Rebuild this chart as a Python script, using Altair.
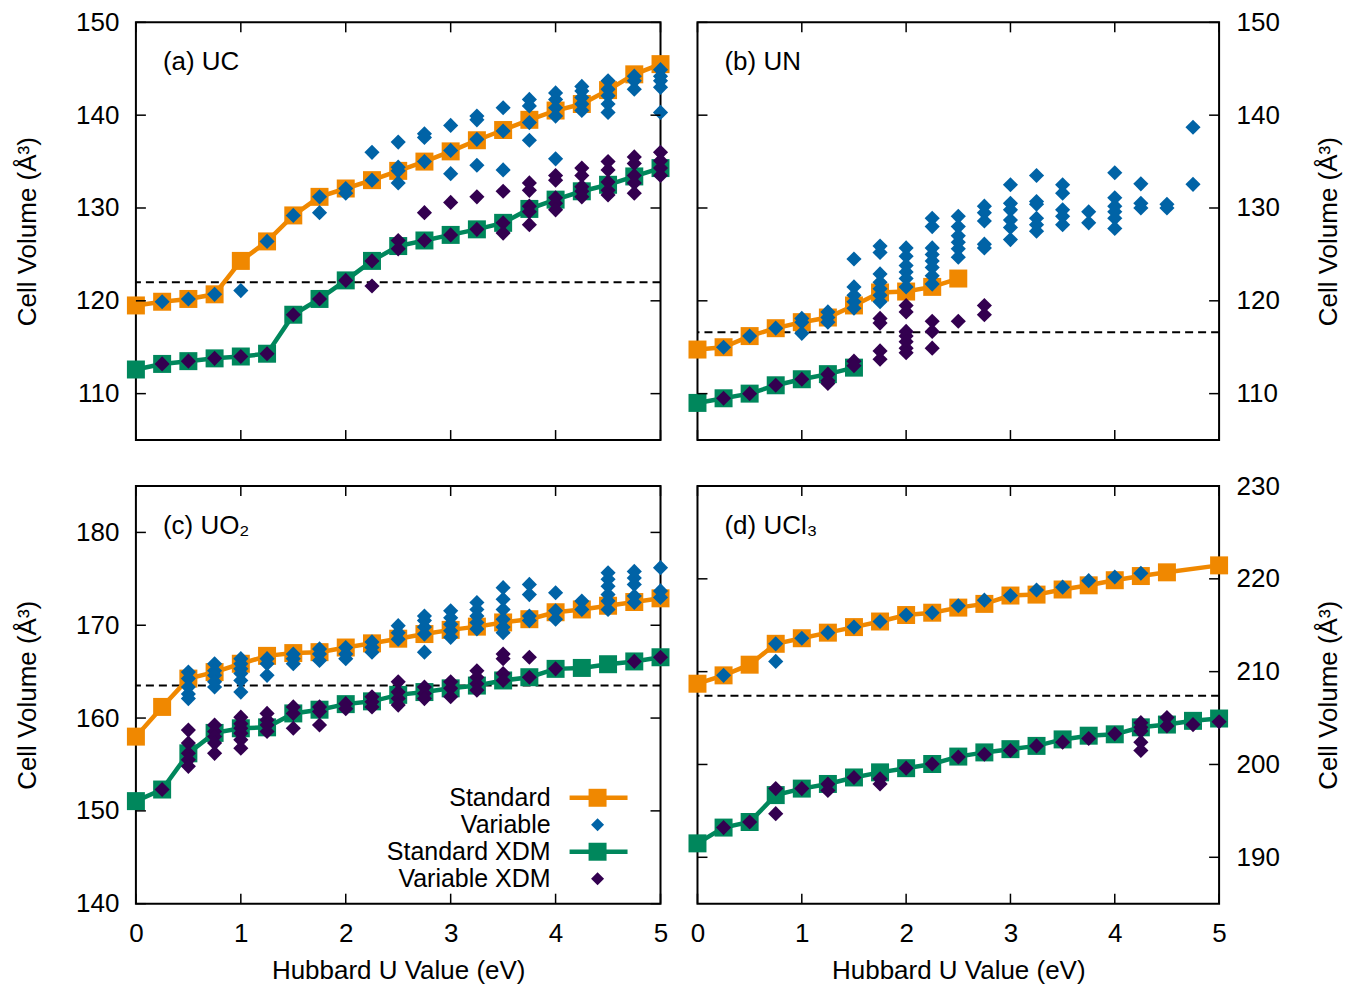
import altair as alt
import pandas as pd

# ---------------- data ----------------
U = [0.0, 0.25, 0.5, 0.75, 1.0, 1.25, 1.5, 1.75, 2.0, 2.25, 2.5,
     2.75, 3.0, 3.25, 3.5, 3.75, 4.0, 4.25, 4.5, 4.75, 5.0]
X_TICKS = [0, 1, 2, 3, 4, 5]

# (a) UC
UC_STD = [119.5, 119.9, 120.2, 120.7, 124.3, 126.4, 129.2, 131.2, 132.1, 133.0, 134.0,
          135.0, 136.1, 137.3, 138.4, 139.5, 140.5, 141.2, 142.7, 144.4, 145.5]
UC_XDM = [112.6, 113.2, 113.5, 113.8, 114.0, 114.3, 118.5, 120.2, 122.2, 124.3, 125.9,
          126.5, 127.1, 127.7, 128.4, 129.9, 130.9, 131.8, 132.5, 133.4, 134.3]
UC_VAR = [[], [119.9], [120.2], [120.7], [121.1], [126.4], [129.2], [131.2, 129.5],
          [132.1, 131.6], [133.0, 136.0], [137.1, 134.4, 134.0, 132.7],
          [138.0, 137.6, 135.0], [138.9, 136.2, 133.7], [139.9, 139.5, 137.4, 134.6],
          [140.8, 138.3, 134.1], [141.7, 141.0, 139.2, 137.3],
          [142.4, 141.7, 140.8, 139.9, 135.3], [143.1, 142.6, 141.9, 141.2, 140.5],
          [143.7, 142.8, 142.1, 141.2, 140.3], [144.2, 143.7, 142.8],
          [144.9, 144.2, 143.7, 143.0, 140.3]]
UC_VXDM = [[], [113.2], [113.5], [113.8], [114.0], [114.3], [118.5], [120.2], [122.2],
           [124.3, 121.6], [126.5, 125.6], [129.5, 126.5], [130.6, 127.1], [131.2, 127.7],
           [131.8, 128.4, 127.3], [132.7, 131.9, 130.2, 129.6, 128.2],
           [133.5, 133.0, 131.1, 130.5, 129.8], [134.3, 133.5, 132.3, 131.8, 131.2],
           [135.0, 134.1, 132.8, 131.9, 131.4], [135.5, 134.8, 133.5, 132.7, 131.6],
           [136.0, 135.1, 134.3, 133.5]]
UC_REF = 122.0

# (b) UN
UN_STD = [114.75, 115.0, 116.2, 117.05, 117.7, 118.2, 119.5, 120.9, 121.0, 121.5, 122.4]
UN_XDM = [109.0, 109.5, 110.0, 110.9, 111.55, 112.1, 112.8]
UN_VAR = [[], [115.0], [116.2], [117.05], [118.1, 117.7, 116.5], [118.8, 118.2, 117.7],
          [124.5, 121.5, 120.6, 119.9, 119.2],
          [125.9, 125.2, 122.9, 122.0, 121.3, 120.6, 119.9],
          [125.7, 124.8, 123.8, 123.1, 122.4, 121.5],
          [128.9, 128.0, 125.7, 125.0, 124.3, 123.6, 122.7, 121.8],
          [129.1, 128.0, 127.0, 126.3, 125.6, 124.7],
          [130.2, 129.5, 128.6, 126.1, 125.7],
          [132.5, 130.5, 129.8, 128.7, 127.9, 126.6],
          [133.5, 130.7, 130.4, 128.9, 128.2, 127.5],
          [132.5, 131.6, 129.8, 129.1, 128.2], [129.6, 128.4],
          [133.8, 131.1, 130.2, 129.6, 128.9, 127.8], [132.6, 130.5, 130.0],
          [130.4, 130.0], [138.7, 132.55], []]
UN_VXDM = [[], [109.5], [110.0], [110.9], [111.55], [112.1, 111.4, 111.1], [113.5, 113.0],
           [118.1, 117.6, 114.6, 113.7],
           [119.5, 118.8, 116.7, 116.2, 115.6, 114.9, 114.4],
           [117.8, 116.7, 114.9], [117.8], [119.5, 118.5]]
UN_REF = 116.6

# (c) UO2
UO2_STD = [158.0, 161.2, 164.25, 164.95, 165.85, 166.7, 167.0, 167.1, 167.6, 168.05, 168.55,
           169.05, 169.5, 169.85, 170.3, 170.65, 171.4, 171.7, 172.1, 172.5, 172.9]
UO2_XDM = [151.05, 152.3, 156.2, 158.4, 158.9, 159.0, 160.5, 160.9, 161.5, 161.8, 162.5,
           162.8, 163.2, 163.5, 164.05, 164.4, 165.3, 165.4, 165.8, 166.1, 166.55]
UO2_VAR = [[], [], [164.95, 164.25, 163.35, 162.6, 162.1],
           [165.85, 165.1, 164.6, 163.9, 163.35],
           [166.4, 165.85, 165.3, 164.8, 164.05, 162.8], [166.4, 165.85, 164.6],
           [166.9, 166.4, 165.85], [167.45, 166.9, 166.2], [167.6, 166.9, 166.4],
           [168.2, 167.6, 167.1], [169.95, 169.2, 168.5],
           [171.0, 170.5, 169.8, 169.05, 167.1], [171.55, 170.8, 170.1, 169.4, 168.7],
           [172.45, 171.7, 171.0, 170.3, 169.6],
           [174.05, 172.8, 171.7, 170.65, 169.8, 169.2], [174.4, 173.3, 171.0, 170.5],
           [173.5, 171.55, 170.65], [172.6, 171.7],
           [175.65, 174.95, 174.2, 173.3, 172.6, 171.7],
           [175.8, 175.1, 174.4, 173.15, 172.45], [176.2, 173.7, 173.0]]
UO2_VXDM = [[], [152.3], [158.7, 157.3, 156.2, 155.5, 154.8],
            [159.25, 158.55, 158.0, 157.3, 156.2],
            [160.1, 159.4, 158.9, 158.35, 157.65, 156.75],
            [160.5, 159.8, 159.25, 158.55], [161.2, 160.5, 158.9], [161.2, 160.7, 159.25],
            [161.55, 161.0], [162.3, 161.75, 161.2], [163.9, 162.8, 162.1, 161.4],
            [163.35, 162.65, 162.1], [163.9, 163.2, 162.3], [165.1, 164.4, 163.7, 163.0],
            [166.9, 166.4, 164.8, 164.05], [166.55, 164.4], [165.3], [], [], [166.1],
            [166.55]]
UO2_REF = 163.5

# (d) UCl3
UCL3_STD = [208.7, 209.6, 210.75, 213.0, 213.6, 214.2, 214.8, 215.4, 216.1, 216.35, 216.9,
            217.3, 218.2, 218.3, 218.85, 219.3, 219.85, 220.3, 220.7, None, 221.45]
UCL3_XDM = [191.5, 193.2, 193.8, 196.7, 197.4, 197.9, 198.6, 199.15, 199.6, 200.05, 200.85,
            201.3, 201.65, 202.0, 202.7, 203.1, 203.25, 204.0, 204.3, 204.7, 204.95]
UCL3_VAR = [[], [209.6], [], [213.0, 211.1], [213.6], [214.2], [214.8], [215.4], [216.1],
            [216.35], [217.1], [217.7], [218.2], [218.8], [219.1], [219.8], [220.2],
            [220.6], [], [], []]
UCL3_VXDM = [[], [193.2], [193.8], [197.4, 194.7], [197.4], [197.9, 197.2], [198.6],
             [198.45, 197.9], [199.6], [200.05], [200.8], [201.1], [201.5], [202.0],
             [202.4], [202.8], [203.3], [204.5, 204.0, 203.6, 202.4, 201.5],
             [205.05, 204.15], [204.3], [204.6]]
UCL3_REF = 207.4

LEGEND_LABELS = ["Standard", "Variable", "Standard XDM", "Variable XDM"]

# ---------------- style ----------------
ORANGE = "#F08800"
BLUE = "#0063A6"
GREEN = "#00875C"
PURPLE = "#330050"
FONT = "Liberation Sans"
FS = 26
H = 418


def line_df(vals):
    return pd.DataFrame([{"U": u, "V": v} for u, v in zip(U, vals) if v is not None])


def scatter_df(lists):
    return pd.DataFrame([{"U": u, "V": v} for u, vs in zip(U, lists) for v in vs])


def panel(std, xdm, var, vxdm, ref, ydom, yticks, label, left_axis, show_x, W, legend=False):
    xs = alt.Scale(domain=[0, 5], nice=False, zero=False)
    ys = alt.Scale(domain=ydom, nice=False, zero=False)
    if show_x:
        xaxis = alt.Axis(values=X_TICKS, format="d", ticks=False, domain=False, grid=False,
                         labelFlush=False, labelPadding=17, labelFontSize=FS,
                         title="Hubbard U Value (eV)", titleFontSize=FS,
                         titleFontWeight="normal", titlePadding=11)
    else:
        xaxis = None
    yaxis = alt.Axis(orient="left" if left_axis else "right", values=yticks, ticks=False,
                     domain=False, grid=False, labelPadding=17, labelFontSize=FS,
                     title="Cell Volume (Å³)", titleFontSize=FS, titleFontWeight="normal",
                     titlePadding=35 if left_axis else 62, titleAngle=270)
    X = alt.X("U:Q", scale=xs, axis=xaxis)
    Y = alt.Y("V:Q", scale=ys, axis=yaxis)

    layers = []
    layers.append(alt.Chart(pd.DataFrame({"V": [ref]})).mark_rule(
        color="black", strokeWidth=2, strokeDash=[8, 5]).encode(y=Y))
    layers.append(alt.Chart(line_df(std)).mark_line(color=ORANGE, strokeWidth=4.5).encode(x=X, y=Y))
    layers.append(alt.Chart(line_df(std)).mark_point(shape="square", filled=True, size=324,
                                                     color=ORANGE, opacity=1).encode(x=X, y=Y))
    layers.append(alt.Chart(scatter_df(var)).mark_point(shape="diamond", filled=True, size=230,
                                                        color=BLUE, opacity=1).encode(x=X, y=Y))
    layers.append(alt.Chart(line_df(xdm)).mark_line(color=GREEN, strokeWidth=4.5).encode(x=X, y=Y))
    layers.append(alt.Chart(line_df(xdm)).mark_point(shape="square", filled=True, size=324,
                                                     color=GREEN, opacity=1).encode(x=X, y=Y))
    layers.append(alt.Chart(scatter_df(vxdm)).mark_point(shape="diamond", filled=True, size=230,
                                                         color=PURPLE, opacity=1).encode(x=X, y=Y))
    # inward ticks on all four sides
    yt = pd.DataFrame({"V": yticks})
    xt = pd.DataFrame({"U": X_TICKS})
    layers.append(alt.Chart(yt).mark_rule(color="black", strokeWidth=1.5).encode(
        y=Y, x=alt.value(0), x2=alt.value(10)))
    layers.append(alt.Chart(yt).mark_rule(color="black", strokeWidth=1.5).encode(
        y=Y, x=alt.value(W - 10), x2=alt.value(W)))
    layers.append(alt.Chart(xt).mark_rule(color="black", strokeWidth=1.5).encode(
        x=X, y=alt.value(0), y2=alt.value(10)))
    layers.append(alt.Chart(xt).mark_rule(color="black", strokeWidth=1.5).encode(
        x=X, y=alt.value(H - 10), y2=alt.value(H)))
    # panel label
    layers.append(alt.Chart(pd.DataFrame({"t": [label]})).mark_text(
        align="left", baseline="middle", fontSize=FS, font=FONT, color="black").encode(
        text="t:N", x=alt.value(27), y=alt.value(40)))

    if legend:
        styles = [(ORANGE, True), (BLUE, False), (GREEN, True), (PURPLE, False)]
        for i, (lab, (col, is_line)) in enumerate(zip(LEGEND_LABELS, styles)):
            ly = 312 + i * 27
            one = pd.DataFrame({"t": [lab]})
            layers.append(alt.Chart(one).mark_text(
                align="right", baseline="middle", fontSize=25, font=FONT, color="black").encode(
                text="t:N", x=alt.value(415), y=alt.value(ly)))
            if is_line:
                layers.append(alt.Chart(one).mark_rule(color=col, strokeWidth=4.5).encode(
                    x=alt.value(434), x2=alt.value(492), y=alt.value(ly)))
                layers.append(alt.Chart(one).mark_point(shape="square", filled=True, size=324,
                                                        color=col, opacity=1).encode(
                    x=alt.value(462), y=alt.value(ly)))
            else:
                layers.append(alt.Chart(one).mark_point(shape="diamond", filled=True, size=170,
                                                        color=col, opacity=1).encode(
                    x=alt.value(462), y=alt.value(ly)))

    return alt.layer(*layers).properties(width=W, height=H)


pa = panel(UC_STD, UC_XDM, UC_VAR, UC_VXDM, UC_REF, [105, 150], [110, 120, 130, 140, 150],
           "(a) UC", True, False, 525)
pb = panel(UN_STD, UN_XDM, UN_VAR, UN_VXDM, UN_REF, [105, 150], [110, 120, 130, 140, 150],
           "(b) UN", False, False, 522)
pc = panel(UO2_STD, UO2_XDM, UO2_VAR, UO2_VXDM, UO2_REF, [140, 185], [140, 150, 160, 170, 180],
           "(c) UO₂", True, True, 525, legend=True)
pd_ = panel(UCL3_STD, UCL3_XDM, UCL3_VAR, UCL3_VXDM, UCL3_REF, [185, 230],
            [190, 200, 210, 220, 230], "(d) UCl₃", False, True, 522)

chart = alt.concat(pa, pb, pc, pd_, columns=2, spacing={"row": 46, "column": 37},
                   bounds="flush").properties(
    padding={"left": 5, "top": 0, "right": 0, "bottom": 0}
).configure(font=FONT).configure_view(stroke="black", strokeWidth=2).configure_axis(
    labelColor="black", titleColor="black", labelFont=FONT, titleFont=FONT)

chart.save("out.html", embed_options={"renderer": "svg", "actions": False})
